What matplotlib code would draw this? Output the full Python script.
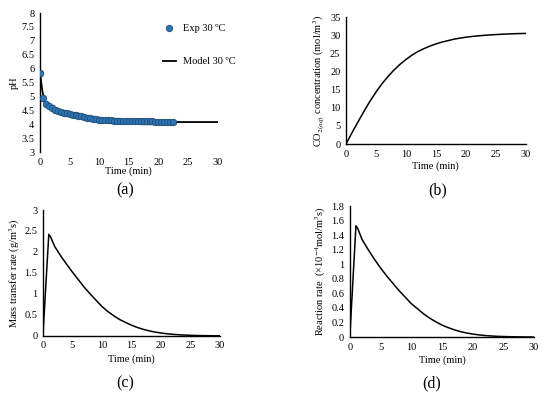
import numpy as np
import matplotlib
matplotlib.use("Agg")
import matplotlib.pyplot as plt

plt.rcParams['font.family'] = ['Liberation Serif', 'DejaVu Serif']
plt.rcParams['mathtext.fontset'] = 'stix'

# (a) pH, experiment and model
exp_t = [0, 0.5, 1, 1.5, 2, 2.5, 3, 3.5, 4, 4.5, 5, 5.5, 6, 6.5, 7, 7.5, 8, 8.5, 9, 9.5,
         10, 10.5, 11, 11.5, 12, 12.5, 13, 13.5, 14, 14.5, 15, 15.5, 16, 16.5, 17, 17.5,
         18, 18.5, 19, 19.5, 20, 20.5, 21, 21.5, 22, 22.5]
exp_ph = [5.83, 4.93, 4.72, 4.65, 4.60, 4.53, 4.48, 4.45, 4.42, 4.39, 4.37, 4.35, 4.33,
          4.31, 4.29, 4.26, 4.24, 4.22, 4.20, 4.18, 4.17, 4.16, 4.15, 4.15, 4.14, 4.13,
          4.13, 4.12, 4.12, 4.12, 4.11, 4.11, 4.11, 4.11, 4.10, 4.10, 4.10, 4.10, 4.10,
          4.09, 4.09, 4.09, 4.09, 4.09, 4.08, 4.08]
exp_err = 0.08
model_t = [0, 0.4, 0.8, 1.2, 1.6, 2, 3, 4, 5, 6, 7, 8, 9, 10, 12, 14, 16, 18, 20, 22, 25, 30]
model_ph = [5.83, 5.2, 4.78, 4.66, 4.6, 4.55, 4.47, 4.4, 4.34, 4.29, 4.25, 4.21, 4.18,
            4.16, 4.13, 4.11, 4.10, 4.09, 4.085, 4.08, 4.08, 4.08]

# (b) CO2(aq) concentration, one value per minute
co2_t = list(range(31))
co2 = [0, 3.1, 6.1, 9.0, 11.8, 14.3, 16.6, 18.6, 20.4, 21.95, 23.3, 24.5, 25.5, 26.3,
       27.0, 27.6, 28.1, 28.5, 28.9, 29.2, 29.45, 29.65, 29.82, 29.96, 30.08, 30.18,
       30.27, 30.34, 30.41, 30.46, 30.5]

# (c) mass transfer rate
mass_t = [0, 1, 1.3] + list(range(2, 31))
mass_rate = [0, 2.42, 2.36, 2.13, 1.91, 1.71, 1.52, 1.34, 1.16, 1.00, 0.85, 0.70, 0.58,
             0.48, 0.39, 0.32, 0.255, 0.20, 0.155, 0.12, 0.09, 0.068, 0.05, 0.037, 0.027,
             0.019, 0.013, 0.009, 0.006, 0.004, 0.002, 0.001]

# (d) reaction rate
react_t = [0, 1, 1.3] + list(range(2, 31))
react_rate = [0, 1.53, 1.49, 1.34, 1.20, 1.07, 0.95, 0.84, 0.74, 0.64, 0.55, 0.46, 0.39,
              0.32, 0.26, 0.21, 0.165, 0.13, 0.10, 0.075, 0.056, 0.041, 0.03, 0.021,
              0.015, 0.01, 0.007, 0.005, 0.003, 0.002, 0.001, 0.0005]

fig = plt.figure(figsize=(5.5, 3.97), dpi=100)
fs = 7.5


def style(ax, bottom=True, xpad=1):
    for s in ['top', 'right']:
        ax.spines[s].set_visible(False)
    ax.spines['bottom'].set_visible(bottom)
    ax.spines['left'].set_linewidth(1.0)
    ax.spines['bottom'].set_linewidth(1.0)
    ax.tick_params(length=0, labelsize=fs, pad=4)
    ax.set_xlim(0, 30)
    ax.set_xticks(range(0, 31, 5))
    ax.set_xlabel('Time (min)', fontsize=fs, labelpad=xpad)


# (a)
ax1 = fig.add_axes([0.0727, 0.617, 0.323, 0.350])
ax1.errorbar(exp_t, exp_ph, yerr=exp_err, fmt='none', ecolor='#9a9a9a',
             elinewidth=1.0, capsize=2.4, capthick=1.0, zorder=2)
ax1.plot(model_t, model_ph, color='black', lw=1.3, label='Model 30 ºC', zorder=3)
ax1.plot(exp_t, exp_ph, 'o', color='#2e75b6', mec='#1f4e79', mew=0.6, ms=4.6,
         label='Exp 30 ºC', zorder=4)
ax1.set_ylim(3, 8)
ax1.set_yticks(np.arange(3, 8.01, 0.5))
ax1.set_yticklabels(['3', '3.5', '4', '4.5', '5', '5.5', '6', '6.5', '7', '7.5', '8'])
style(ax1, bottom=False, xpad=0)
ax1.set_ylabel('pH', fontsize=fs, labelpad=2)
h, l = ax1.get_legend_handles_labels()
ax1.legend(h[::-1], l[::-1], loc='upper left', bbox_to_anchor=(0.64, 0.99),
           frameon=False, fontsize=fs, labelspacing=2.3, handlelength=1.2,
           handletextpad=0.7)

# (b)
ax2 = fig.add_axes([0.629, 0.637, 0.327, 0.320])
ax2.plot(co2_t, co2, color='black', lw=1.1)
ax2.set_ylim(0, 35)
ax2.set_yticks(range(0, 36, 5))
style(ax2, xpad=2)
ax2.set_ylabel('CO$_{2(aq)}$ concentration (mol/m$^3$)', fontsize=fs, labelpad=2)

# (c)
ax3 = fig.add_axes([0.078, 0.154, 0.322, 0.317])
ax3.plot(mass_t, mass_rate, color='black', lw=1.1)
ax3.set_ylim(0, 3)
ax3.set_yticks(np.arange(0, 3.01, 0.5))
ax3.set_yticklabels(['0', '0.5', '1', '1.5', '2', '2.5', '3'])
style(ax3, xpad=3)
ax3.set_ylabel('Mass transfer rate (g/m$^3$s)', fontsize=fs, labelpad=2)

# (d)
ax4 = fig.add_axes([0.636, 0.151, 0.335, 0.330])
ax4.plot(react_t, react_rate, color='black', lw=1.1)
ax4.set_ylim(0, 1.8)
ax4.set_yticks(np.arange(0, 1.81, 0.2))
ax4.set_yticklabels(['0', '0.2', '0.4', '0.6', '0.8', '1', '1.2', '1.4', '1.6', '1.8'])
style(ax4, xpad=3)
ax4.set_ylabel('Reaction rate  (×10$^{-4}$mol/m$^3$s)', fontsize=fs, labelpad=2)

fig.text(0.227, 0.521, '(a)', fontsize=11.5, ha='center', va='center')
fig.text(0.796, 0.521, '(b)', fontsize=11.5, ha='center', va='center')
fig.text(0.227, 0.035, '(c)', fontsize=11.5, ha='center', va='center')
fig.text(0.785, 0.035, '(d)', fontsize=11.5, ha='center', va='center')

fig.savefig('out.png', dpi=100)
